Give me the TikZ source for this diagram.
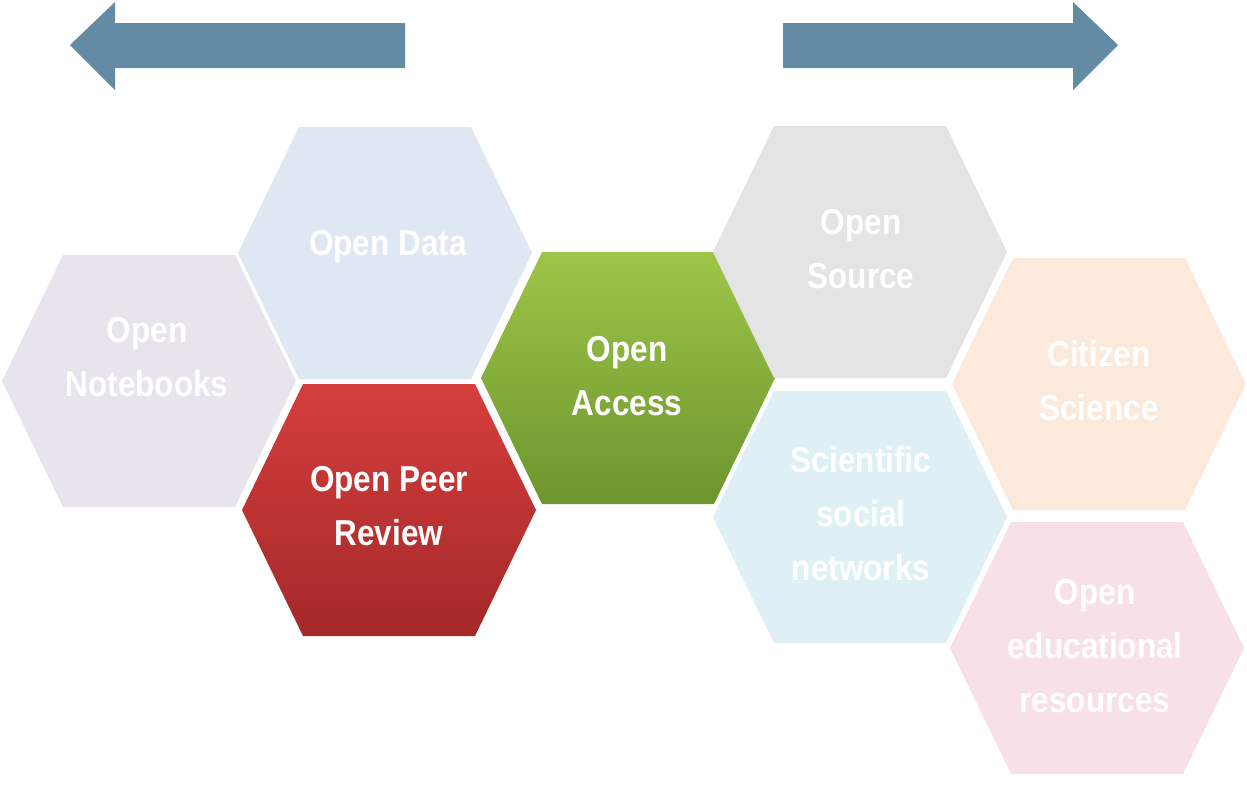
\documentclass[tikz,border=0pt]{standalone}
\usepackage{fontspec}
\newfontfamily\hexfont{Liberation Sans}[FakeStretch=0.875]
\usetikzlibrary{positioning}

\definecolor{arrowblue}{HTML}{638BA3}
\definecolor{nbfill}{HTML}{E8E4EE}
\definecolor{datafill}{HTML}{DFE7F3}
\definecolor{peertop}{HTML}{D53E3D}
\definecolor{peerbot}{HTML}{A52829}
\definecolor{accesstop}{HTML}{9DC648}
\definecolor{accessbot}{HTML}{6C952F}
\definecolor{srcfill}{HTML}{E4E4E4}
\definecolor{socialfill}{HTML}{DEF0F6}
\definecolor{citizenfill}{HTML}{FBE9DB}
\definecolor{oerfill}{HTML}{F8E0E8}

\tikzset{
  hexa/.pic={\path[pic actions] (-147,0) -- (-86,-126) -- (86,-126) -- (147,0) -- (86,126) -- (-86,126) -- cycle;},
  hextext/.style={text=white, align=center, font=\hexfont\bfseries\fontsize{20.5}{30.7}\selectfont},
}

\begin{document}
\begin{tikzpicture}[x=0.02cm, y=-0.02cm]
\useasboundingbox (0,0) rectangle (1247,789);

% the two big arrows
\fill[arrowblue] (405,23)--(115,23)--(115,2)--(70,45)--(115,90)--(115,68)--(405,68)--cycle;
\fill[arrowblue] (783,23)--(1073,23)--(1073,2)--(1118,45)--(1073,90)--(1073,68)--(783,68)--cycle;

% hexagons
\pic[fill=nbfill] at (149,381) {hexa};
\pic[fill=datafill] at (385,253) {hexa};
\pic[top color=peertop, bottom color=peerbot] at (389,510) {hexa};
\pic[top color=accesstop, bottom color=accessbot] at (628,378) {hexa};
\pic[fill=srcfill] at (860,252) {hexa};
\pic[fill=socialfill] at (860,517) {hexa};
\pic[fill=citizenfill] at (1099,384) {hexa};
\pic[fill=oerfill] at (1097,648) {hexa};

% labels
\node (notebooks) at (147,357)[hextext]{Open\\Notebooks};
\node (data) at (388,247)[hextext]{Open Data};
\node (peer) at (389,506)[hextext]{Open Peer\\Review};
\node (access) at (627,376)[hextext]{Open\\Access};
\node (source) at (861,249)[hextext]{Open\\Source};
\node (social) at (861,514)[hextext]{Scientific\\social\\networks};
\node (citizen) at (1099,381)[hextext]{Citizen\\Science};
\node (oer) at (1095,646)[hextext]{Open\\educational\\resources};

\end{tikzpicture}
\end{document}
